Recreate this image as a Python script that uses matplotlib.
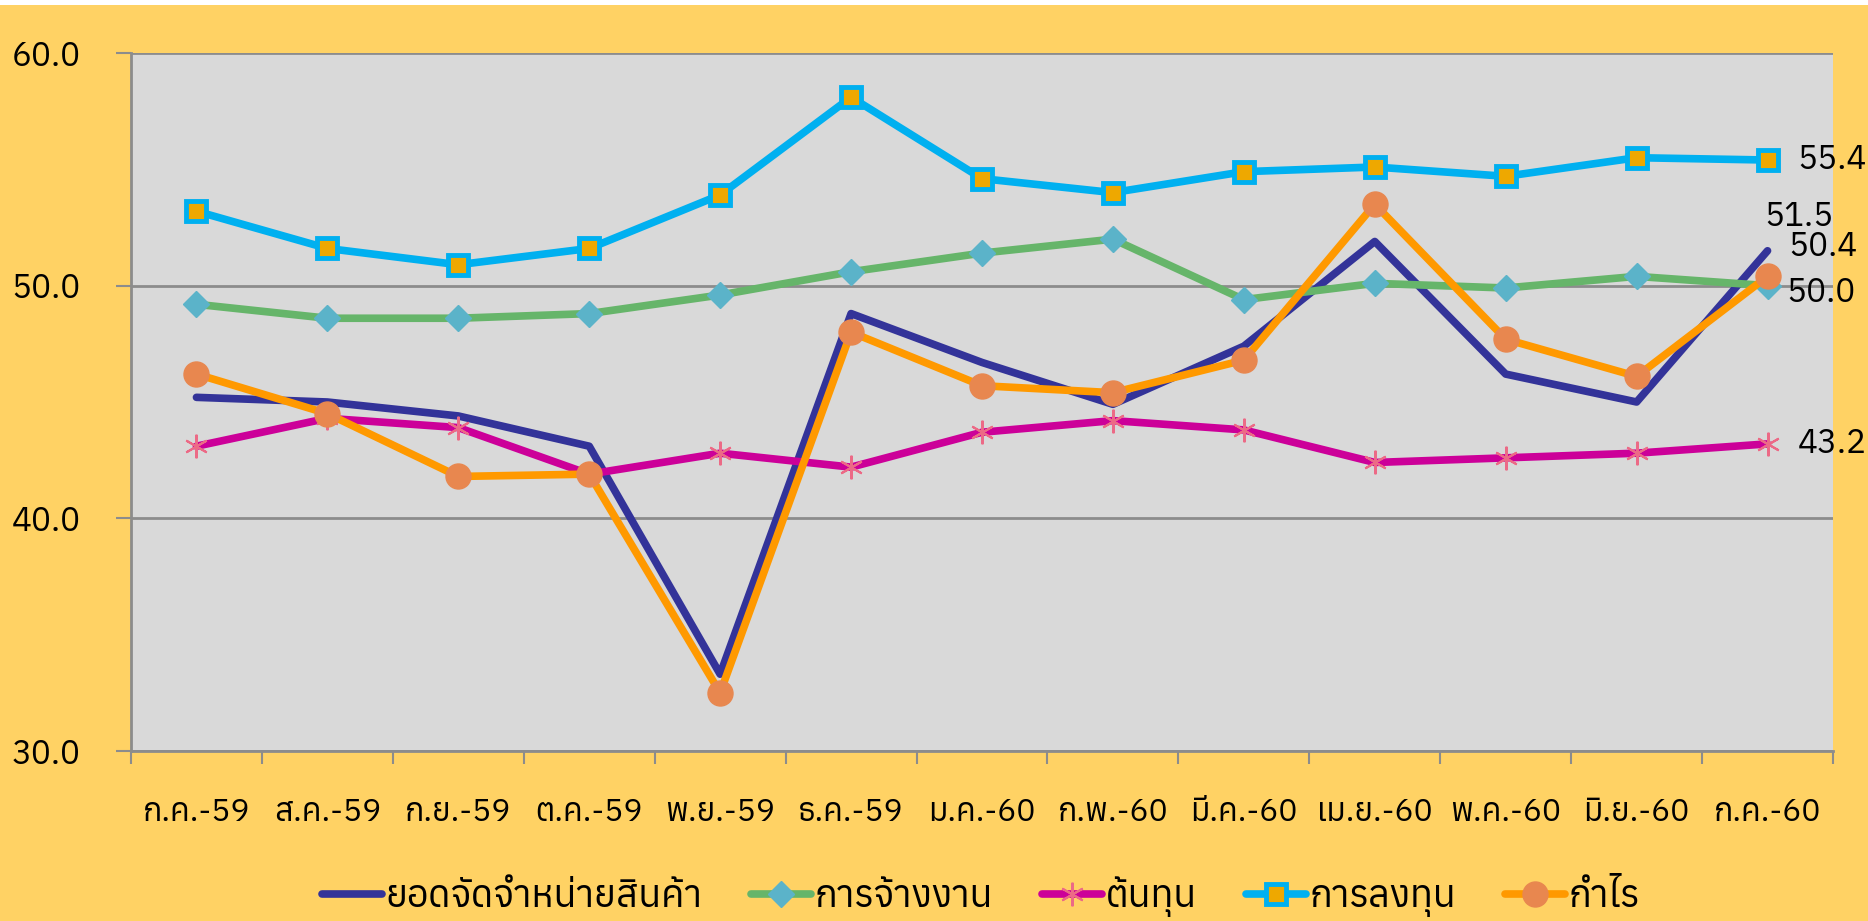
import matplotlib
matplotlib.use("Agg")
import matplotlib.pyplot as plt
import matplotlib.patches as mpatches
import numpy as np

plt.rcParams['font.family'] = ['Anuphan', 'Noto Sans Thai', 'DejaVu Sans']

months = ['ก.ค.-59', 'ส.ค.-59', 'ก.ย.-59', 'ต.ค.-59', 'พ.ย.-59', 'ธ.ค.-59', 'ม.ค.-60',
          'ก.พ.-60', 'มี.ค.-60', 'เม.ย.-60', 'พ.ค.-60', 'มิ.ย.-60', 'ก.ค.-60']

sales = [45.2, 45.0, 44.4, 43.1, 33.3, 48.8, 46.7, 44.9, 47.4, 51.9, 46.2, 45.0, 51.5]
employment = [49.2, 48.6, 48.6, 48.8, 49.6, 50.6, 51.4, 52.0, 49.4, 50.1, 49.9, 50.4, 50.0]
cost = [43.1, 44.3, 43.9, 41.9, 42.8, 42.2, 43.7, 44.2, 43.8, 42.4, 42.6, 42.8, 43.2]
investment = [53.2, 51.6, 50.9, 51.6, 53.9, 58.1, 54.6, 54.0, 54.9, 55.1, 54.7, 55.5, 55.4]
profit = [46.2, 44.5, 41.8, 41.9, 32.5, 48.0, 45.7, 45.4, 46.8, 53.5, 47.7, 46.1, 50.4]

names = ['ยอดจัดจำหน่ายสินค้า', 'การจ้างงาน', 'ต้นทุน', 'การลงทุน', 'กำไร']

bg = '#FFD264'
fig = plt.figure(figsize=(18.68, 9.21), dpi=100, facecolor=bg)
fig.patches.append(mpatches.Rectangle((0, 1 - 5/921), 1, 5/921, transform=fig.transFigure,
                                      facecolor='white', edgecolor='none'))
ax = fig.add_axes([131/1868, 1 - 751/921, (1833 - 131)/1868, (751 - 53)/921])
ax.set_facecolor('#D9D9D9')

x = np.arange(len(months))
lw = 5.5
common = dict(linewidth=lw, solid_capstyle='round', solid_joinstyle='round')

ax.plot(x, sales, color='#333399', label=names[0], **common)
ax.plot(x, employment, color='#66B56A', marker='D', markersize=13.5,
        markerfacecolor='#5BB3C9', markeredgecolor='#5BB3C9', label=names[1], **common)
ax.plot(x, cost, color='#CC0099', marker=(6, 2, 0), markersize=17, markeredgewidth=1.5,
        markeredgecolor='#EC6A86', label=names[2], **common)
ax.plot(x, investment, color='#00B0F0', marker='s', markersize=15, markeredgewidth=3.5,
        markerfacecolor='#EEA800', markeredgecolor='#00B0F0', label=names[3], **common)
ax.plot(x, profit, color='#FF9900', marker='o', markersize=18,
        markerfacecolor='#E8874F', markeredgecolor='#E8874F', label=names[4], **common)

ax.set_xlim(-0.5, len(months) - 0.5)
ax.set_ylim(30, 60)
ax.set_yticks([30, 40, 50, 60])
ax.set_yticklabels(['30.0', '40.0', '50.0', '60.0'])
ax.yaxis.grid(True, color='#8C8C8C', linewidth=2)
ax.set_axisbelow(True)

ax.set_xticks(x)
ax.set_xticklabels(months)
ax.set_xticks(np.arange(len(months) + 1) - 0.5, minor=True)
ax.tick_params(axis='x', which='major', length=0, pad=33, labelsize=23)
ax.tick_params(axis='x', which='minor', length=9.5, width=1.5, color='#8C8C8C')
ax.tick_params(axis='y', length=11, width=1.5, color='#8C8C8C', pad=25, labelsize=24)

for s in ['top', 'right']:
    ax.spines[s].set_visible(False)
for s in ['left', 'bottom']:
    ax.spines[s].set_color('#8C8C8C')
    ax.spines[s].set_linewidth(2)

# end-point value labels
last = len(months) - 1
ax.annotate(f'{investment[-1]:.1f}', (last, investment[-1]), xytext=(30, 0),
            textcoords='offset pixels', ha='left', va='center', fontsize=24)
ax.annotate(f'{sales[-1]:.1f}', (last, sales[-1]), xytext=(-3, 34),
            textcoords='offset pixels', ha='left', va='center', fontsize=24)
ax.annotate(f'{profit[-1]:.1f}', (last, profit[-1]), xytext=(21, 29),
            textcoords='offset pixels', ha='left', va='center', fontsize=24)
ax.annotate(f'{employment[-1]:.1f}', (last, employment[-1]), xytext=(19, -7),
            textcoords='offset pixels', ha='left', va='center', fontsize=24)
ax.annotate(f'{cost[-1]:.1f}', (last, cost[-1]), xytext=(30, 0),
            textcoords='offset pixels', ha='left', va='center', fontsize=24)

handles, labels = ax.get_legend_handles_labels()
fig.legend(handles, labels, loc='center', bbox_to_anchor=(0.525, 0.026), ncol=5,
           frameon=False, fontsize=27, handlelength=1.6, handletextpad=0.1,
           columnspacing=1.3, borderaxespad=0)

fig.savefig('out.png', facecolor=bg)
